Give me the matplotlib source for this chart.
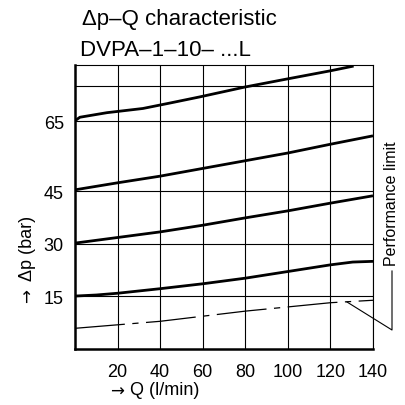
import matplotlib
matplotlib.use("Agg")
import matplotlib.pyplot as plt
from matplotlib.lines import Line2D

plt.rcParams['font.family'] = ['Liberation Sans', 'DejaVu Sans']

# Data
q_65 = [0, 2.3, 15, 31.9, 45, 58.6, 79.7, 99.5, 119.6, 130.9]
p_65 = [65.1, 66.1, 67.4, 68.6, 70.2, 71.9, 74.7, 77.0, 79.3, 80.7]
q_45 = [0, 20, 40, 60, 80, 100, 120, 140]
p_45 = [45.4, 47.4, 49.3, 51.5, 53.7, 55.9, 58.4, 60.8]
q_30 = [0, 20, 40, 60, 80, 100, 120, 140]
p_30 = [30.2, 31.8, 33.4, 35.3, 37.4, 39.4, 41.6, 43.7]
q_15 = [0, 10, 20, 40, 60, 80, 100, 120, 130.5, 140]
p_15 = [15.1, 15.4, 15.9, 17.2, 18.6, 20.2, 22.1, 24.0, 24.8, 25.0]
q_lim = [0, 40, 80, 120, 140]
p_lim = [5.9, 7.9, 10.8, 13.2, 13.9]

x_ticks = [20, 40, 60, 80, 100, 120, 140]
y_ticks = [15, 30, 45, 65]
y_grid = [15, 30, 45, 65, 75]

W = H = 406
fig = plt.figure(figsize=(4.06, 4.06), dpi=100)
ax = fig.add_axes([75 / W, 1 - 350 / H, 298 / W, 284 / H])
ax.set_xlim(0, 140)
ax.set_ylim(0, 81)

for q, p in [(q_65, p_65), (q_45, p_45), (q_30, p_30), (q_15, p_15)]:
    ax.plot(q, p, color='black', lw=2.0, solid_capstyle='butt',
            solid_joinstyle='round', zorder=3)

ax.plot(q_lim, p_lim, color='black', lw=0.9, dashes=(40, 6, 5, 6), zorder=3)

ax.set_xticks(x_ticks)
ax.set_xticklabels([str(v) for v in x_ticks])
ax.set_yticks(y_grid)
ax.set_yticklabels([str(v) if v in y_ticks else '' for v in y_grid])
ax.grid(True, color='black', lw=0.8)
ax.tick_params(length=0, labelsize=13, pad=8)
ax.tick_params(axis='x', pad=10)

for s in ['left', 'bottom']:
    ax.spines[s].set_linewidth(1.8)
for s in ['top', 'right']:
    ax.spines[s].set_linewidth(0.8)

fig.text(82 / W, 1 - 19 / H, 'Δp–Q characteristic', fontsize=16, ha='left', va='center')
fig.text(80 / W, 1 - 50 / H, 'DVPA–1–10– ...L', fontsize=16, ha='left', va='center')

# x-axis label
fig.text(117 / W, 1 - 392 / H, '→', fontsize=12, ha='center', va='center', family='DejaVu Sans')
fig.text(130 / W, 1 - 391 / H, 'Q (l/min)', fontsize=13, ha='left', va='center')
# y-axis label
fig.text(28 / W, 1 - 296 / H, '→', fontsize=12, ha='center', va='center', rotation=90,
         family='DejaVu Sans')
fig.text(28 / W, 1 - 248 / H, 'Δp (bar)', fontsize=13, ha='center', va='center', rotation=90)

fig.text(392 / W, 1 - 204 / H, 'Performance limit', fontsize=11.5, ha='center', va='center', rotation=90)

# leader line for performance limit
fig.add_artist(Line2D([347 / W, 392 / W, 392 / W], [1 - 303 / H, 1 - 331 / H, 1 - 272 / H],
                      color='black', lw=0.8))

fig.savefig('out.png', dpi=100)
